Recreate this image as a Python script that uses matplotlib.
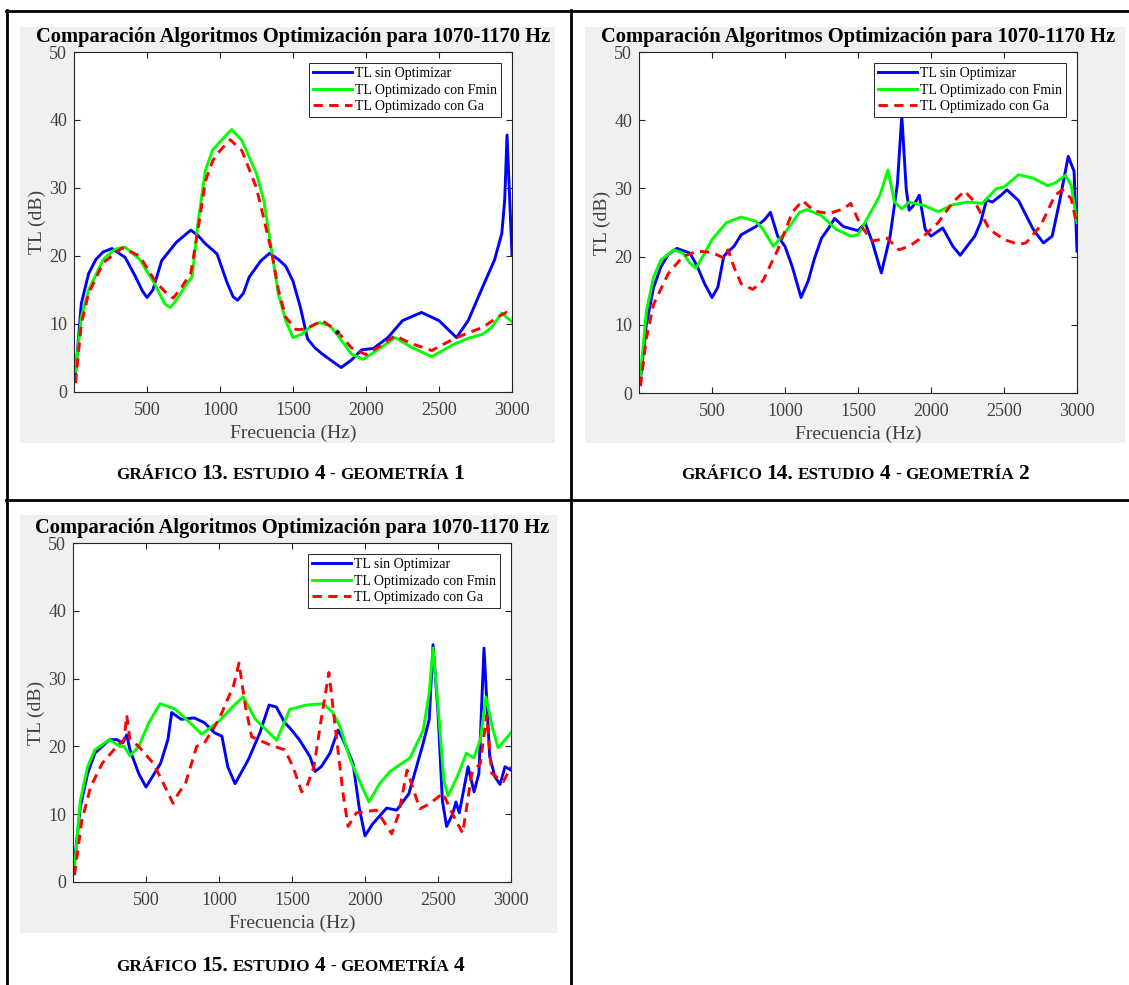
import matplotlib
matplotlib.use("Agg")
import matplotlib.pyplot as plt
from matplotlib.lines import Line2D
from matplotlib.patches import Rectangle

W, H = 1129, 985

labels = ["TL sin Optimizar", "TL Optimizado con Fmin", "TL Optimizado con Ga"]
title = "Comparación Algoritmos Optimización para 1070-1170 Hz"
xticks = [500, 1000, 1500, 2000, 2500, 3000]
yticks = [0, 10, 20, 30, 40, 50]

# --- Geometría 1 ---
f1_sin = [10, 50, 100, 150, 200, 260, 350, 420, 470, 500, 540, 600, 700, 800, 850, 900, 980, 1050, 1090, 1120,
          1160, 1200, 1280, 1340, 1400, 1450, 1500, 1550, 1600, 1650, 1700, 1770, 1830, 1900, 1970, 2050, 2150,
          2250, 2380, 2500, 2620, 2700, 2800, 2880, 2930, 2950, 2966, 3000]
tl1_sin = [2.5, 13, 17.4, 19.5, 20.6, 21.1, 19.8, 17, 14.8, 13.9, 15, 19.3, 22, 23.8, 23, 21.8, 20.3, 16, 14, 13.5,
           14.5, 16.9, 19.3, 20.4, 19.5, 18.5, 16.3, 12.5, 7.8, 6.5, 5.6, 4.5, 3.6, 4.7, 6.2, 6.4, 8.0,
           10.5, 11.7, 10.5, 8.0, 10.5, 15.5, 19.4, 23.3, 28.2, 37.8, 20.2]
f1_fmin = [10, 50, 100, 200, 280, 350, 450, 550, 620, 660, 700, 760, 810, 850, 900, 950, 1000, 1080, 1150, 1250,
           1300, 1350, 1400, 1450, 1500, 1560, 1620, 1680, 1750, 1800, 1900, 1980, 2100, 2200, 2300, 2450, 2600,
           2700, 2800, 2860, 2930, 3000]
tl1_fmin = [3, 11, 15, 19.5, 21, 21.3, 19.5, 16, 13, 12.4, 13.5, 15.5, 17, 25, 32.6, 35.6, 36.8, 38.6, 37, 32.1,
            28.2, 21.3, 14.4, 10.5, 8, 8.5, 9.6, 10.2, 9.8, 8.5, 5.6, 4.8, 6.5, 8, 6.7, 5.2, 7,
            7.9, 8.5, 9.5, 11.6, 10.3]
f1_ga = [10, 50, 100, 200, 330, 450, 550, 620, 680, 740, 800, 850, 900, 950, 1000, 1070, 1150, 1250, 1350, 1400,
         1450, 1520, 1580, 1700, 1800, 1900, 2000, 2100, 2200, 2300, 2450, 2600, 2700, 2800, 2900, 2960, 3000]
tl1_ga = [1.3, 10, 14.5, 19, 21.2, 20, 16.5, 14.8, 13.8, 15.5, 17.5, 24, 31, 34, 35.5, 37.1, 35.5, 30, 21, 15,
          11, 9.2, 9.2, 10.5, 9, 6.5, 5.5, 6.8, 8.3, 7.2, 6.1, 7.8, 8.7, 9.5, 11, 11.7, 11]
tip_f1 = [1800]
tip_tl1 = [8.8]

# --- Geometría 2 ---
f2_sin = [10, 50, 100, 150, 200, 260, 350, 400, 450, 500, 540, 580, 600, 650, 700, 800, 860, 900, 950, 1000,
          1050, 1110, 1160, 1200, 1250, 1300, 1340, 1400, 1500, 1550, 1600, 1660, 1720, 1770, 1800, 1830, 1850,
          1880, 1920, 1960, 2000, 2080, 2150, 2200, 2300, 2340, 2380, 2420, 2480, 2520, 2600, 2700, 2770, 2830,
          2880, 2940, 2980, 3000]
tl2_sin = [2, 10, 15.5, 18.5, 20.3, 21.2, 20.5, 18.5, 16, 14, 15.5, 20, 20.5, 21.5, 23.2, 24.4, 25.4, 26.5, 23, 21.5,
           18.5, 14, 16.5, 19.6, 22.7, 24.2, 25.6, 24.4, 23.8, 24.9, 22, 17.6, 23, 30.7, 40.7, 30, 26.8,
           27.5, 29, 24, 23, 24.2, 21.5, 20.2, 23, 25, 28.3, 28, 29, 29.8, 28.2, 24, 22, 23,
           28, 34.7, 32.5, 20.8]
f2_fmin = [10, 50, 100, 150, 240, 300, 350, 390, 450, 500, 600, 700, 800, 850, 920, 1000, 1100, 1150, 1250, 1350,
           1450, 1500, 1600, 1650, 1705, 1750, 1800, 1850, 1950, 2050, 2150, 2250, 2350, 2450, 2500, 2600, 2700,
           2800, 2850, 2920, 2960, 3000]
tl2_fmin = [2.5, 12, 17, 19.5, 21, 20.5, 19, 18.3, 20.5, 22.5, 25, 25.8, 25.2, 24, 21.5, 23.5, 26.5, 26.9, 26, 24,
            23, 23.2, 27, 29, 32.7, 28, 27, 28, 27.5, 26.6, 27.6, 28, 27.8, 30, 30.2, 32, 31.5,
            30.4, 30.8, 31.9, 30.5, 25]
f2_ga = [10, 50, 100, 200, 300, 400, 500, 580, 610, 650, 700, 780, 850, 950, 1050, 1120, 1200, 1300, 1400, 1450,
         1520, 1600, 1700, 1780, 1850, 1950, 2050, 2150, 2230, 2300, 2400, 2500, 2600, 2650, 2750, 2850, 2900,
         2960, 3000]
tl2_ga = [1, 8, 13, 17.5, 20, 20.8, 20.6, 19.8, 21, 18.5, 16, 15.2, 16.5, 21, 26.5, 28.2, 26.7, 26.3, 27, 27.8,
          24.5, 22.3, 22.7, 21, 21.5, 23, 25, 28, 29.6, 28, 24, 22.5, 21.8, 22, 24.5, 29, 29.8,
          28.5, 24.5]

# --- Geometría 4 ---
f3_sin = [10, 50, 100, 150, 250, 300, 340, 368, 390, 450, 500, 600, 650, 676, 740, 830, 900, 970, 1020, 1060,
          1110, 1200, 1280, 1343, 1393, 1450, 1486, 1550, 1623, 1658, 1700, 1760, 1815, 1850, 1918, 1960, 2000,
          2050, 2148, 2217, 2300, 2399, 2440, 2466, 2500, 2530, 2559, 2600, 2623, 2646, 2706, 2747, 2780, 2815,
          2854, 2890, 2925, 2959, 3000]
tl3_sin = [3, 11, 16, 19, 21, 21, 20.5, 21.7, 19.5, 16, 14, 17.5, 21, 25, 24, 24.2, 23.5, 22, 21.5, 17,
           14.5, 18, 22, 26.1, 25.8, 23.5, 22.7, 21, 18.5, 16.3, 17, 19, 22.4, 21, 17.5, 11, 6.8,
           8.5, 10.9, 10.6, 13, 20.5, 24, 35, 25, 12, 8.2, 10, 11.8, 10.2, 17, 13.3, 16, 34.5,
           18.5, 15.5, 14.4, 17, 16.5]
f3_fmin = [10, 50, 100, 150, 250, 320, 350, 390, 450, 520, 596, 700, 800, 881, 1000, 1100, 1166, 1250, 1395, 1486,
           1600, 1714, 1780, 1829, 1900, 1950, 2027, 2100, 2171, 2308, 2399, 2440, 2466, 2500, 2540, 2569, 2637,
           2694, 2745, 2790, 2828, 2870, 2911, 2960, 3000]
tl3_fmin = [2, 12, 17, 19.5, 21, 20, 20, 18.6, 20, 23.5, 26.3, 25.5, 23.5, 21.8, 23.7, 26, 27.3, 24, 20.9, 25.5,
            26.1, 26.3, 25, 22.9, 18, 15.5, 11.8, 14.5, 16.3, 18.3, 22.4, 28, 34.5, 26, 15, 12.7, 15.8,
            19, 18.3, 21, 27.3, 23, 19.8, 21, 22]
f3_ga = [10, 60, 120, 200, 300, 350, 368, 390, 450, 550, 620, 685, 720, 770, 847, 900, 1000, 1100, 1137, 1180,
         1224, 1352, 1450, 1507, 1566, 1600, 1650, 1700, 1753, 1790, 1850, 1884, 1941, 2078, 2183, 2230, 2288,
         2375, 2440, 2534, 2600, 2669, 2731, 2790, 2833, 2868, 2948, 3000]
tl3_ga = [1, 9, 14, 17.5, 20, 21, 24.6, 21, 20, 17.5, 14.5, 11.6, 13, 14.5, 20, 20.5, 24, 29, 32.3, 26,
          21.4, 20.2, 19.5, 17, 13.3, 14, 17, 24, 30.9, 24, 13, 8.2, 10.2, 10.6, 7.1, 10, 16.5,
          10.8, 11.5, 13.1, 10, 7.2, 16, 17.5, 24.6, 16, 14.8, 17]

captions = [
    [("GRÁFICO", 12.3), ("13.", 15.5), ("ESTUDIO", 12.3), ("4", 15.5), ("-", 12.3), ("GEOMETRÍA", 12.3), ("1", 15.5)],
    [("GRÁFICO", 12.3), ("14.", 15.5), ("ESTUDIO", 12.3), ("4", 15.5), ("-", 12.3), ("GEOMETRÍA", 12.3), ("2", 15.5)],
    [("GRÁFICO", 12.3), ("15.", 15.5), ("ESTUDIO", 12.3), ("4", 15.5), ("-", 12.3), ("GEOMETRÍA", 12.3), ("4", 15.5)],
]

SERIF = "Liberation Serif"
plt.rcParams["font.family"] = [SERIF, "DejaVu Serif"]

fig = plt.figure(figsize=(W / 100, H / 100), dpi=100)
fig.patch.set_facecolor("white")


def fbox(l, t, r, b):
    return [l / W, 1 - b / H, (r - l) / W, (b - t) / H]


def hline(y, x0, x1):
    fig.add_artist(Line2D([x0 / W, x1 / W], [1 - y / H, 1 - y / H], transform=fig.transFigure,
                          color="black", lw=2))


def vline(x, y0, y1):
    fig.add_artist(Line2D([x / W, x / W], [1 - y0 / H, 1 - y1 / H], transform=fig.transFigure,
                          color="black", lw=2))


def panel(bg, axbox, data, tip=None):
    l, t, r, b = bg
    fig.add_artist(Rectangle((l / W, 1 - b / H), (r - l) / W, (b - t) / H, transform=fig.transFigure,
                             facecolor="#f0f0f0", edgecolor="none", zorder=-1))
    ax = fig.add_axes(fbox(*axbox))
    ax.set_facecolor("white")
    (fs, ys), (ff, yf), (fg, yg) = data
    ax.plot(fs, ys, color="#0000ff", lw=2.1, label=labels[0])
    ax.plot(ff, yf, color="#00ff00", lw=2.1, label=labels[1])
    ax.plot(fg, yg, color="#ff0000", lw=2.1, ls="--", dashes=(3.2, 2.2), label=labels[2])
    if tip is not None:
        ax.plot(tip[0], tip[1], "o", ms=4, mfc="#202020", mec="#c8c890", mew=0.6)
    ax.set_xlim(0, 3000)
    ax.set_ylim(0, 50)
    ax.set_xticks(xticks)
    ax.set_yticks(yticks)
    ax.tick_params(direction="in", top=True, right=True, length=4, width=0.8, colors="#262626",
                   labelsize=13, labelcolor="#404040")
    ax.tick_params(axis="x", pad=7)
    ax.tick_params(axis="y", pad=5)
    for s in ax.spines.values():
        s.set_color("#262626")
        s.set_linewidth(0.8)
    ax.set_xlabel("Frecuencia (Hz)", fontsize=14, color="#404040", labelpad=4)
    ax.set_ylabel("TL (dB)", fontsize=14, color="#404040", labelpad=2)
    ax.set_title(title, fontsize=14.8, fontweight="bold", color="black", pad=7)
    leg = ax.legend(loc="upper right", fontsize=10, frameon=True, fancybox=False, framealpha=1,
                    handlelength=2.8, handletextpad=0.2, labelspacing=0.25, borderpad=0.3,
                    borderaxespad=0.8)
    leg.get_frame().set_edgecolor("#262626")
    leg.get_frame().set_linewidth(0.7)
    return ax


def caption(cx, base, parts):
    renderer = fig.canvas.get_renderer()
    texts, widths = [], []
    for s, size in parts:
        t = fig.text(0, 1 - base / H, s, fontsize=size, fontweight="bold", va="baseline", ha="left",
                     color="black")
        texts.append(t)
        widths.append(t.get_window_extent(renderer).width)
    gap = 4.5
    total = sum(widths) + gap * (len(parts) - 1)
    x = cx - total / 2
    for t, w in zip(texts, widths):
        t.set_x(x / W)
        x += w + gap


panel((20, 27, 555, 443), (74, 52, 512, 392),
      [(f1_sin, tl1_sin), (f1_fmin, tl1_fmin), (f1_ga, tl1_ga)], tip=(tip_f1, tip_tl1))
panel((585, 27, 1125, 443), (639, 52, 1077, 393),
      [(f2_sin, tl2_sin), (f2_fmin, tl2_fmin), (f2_ga, tl2_ga)])
panel((20, 515, 557, 933), (73, 543, 511, 882),
      [(f3_sin, tl3_sin), (f3_fmin, tl3_fmin), (f3_ga, tl3_ga)])

caption(290, 479, captions[0])
caption(855, 479, captions[1])
caption(290, 971, captions[2])

# table borders
hline(10.5, 6, 1129)
hline(500, 6, 1129)
vline(6.5, 10, 985)
vline(570.5, 10, 985)

fig.savefig("out.png", dpi=100)
